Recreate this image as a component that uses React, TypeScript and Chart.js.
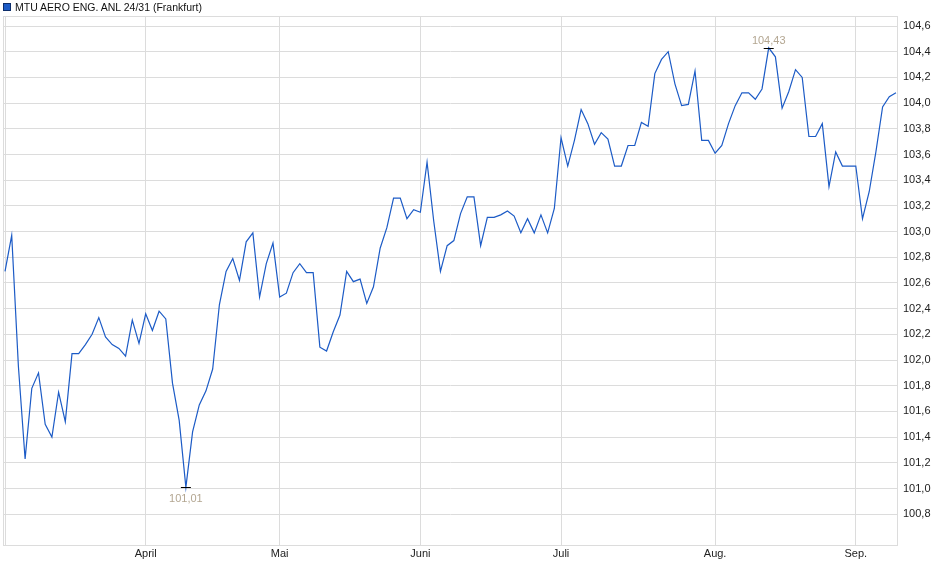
import { useEffect, useRef } from 'react';
import { Chart, registerables } from 'chart.js';

Chart.register(...registerables);

const seriesName = 'MTU AERO ENG. ANL 24/31 (Frankfurt)';

// Daily closing prices, trading days from early March to early September
const priceValues: number[] = [
  102.69, 102.97, 101.95, 101.23, 101.78, 101.9, 101.5, 101.4, 101.75, 101.52,
  102.05, 102.05, 102.12, 102.2, 102.33, 102.18, 102.12, 102.09, 102.03, 102.31,
  102.13, 102.36, 102.23, 102.38, 102.32, 101.82, 101.53, 101.01, 101.44, 101.65,
  101.76, 101.93, 102.43, 102.69, 102.79, 102.62, 102.92, 102.99, 102.49, 102.75,
  102.91, 102.49, 102.52, 102.68, 102.75, 102.68, 102.68, 102.1, 102.07, 102.22,
  102.35, 102.69, 102.61, 102.63, 102.44, 102.57, 102.87, 103.03, 103.26, 103.26,
  103.1, 103.17, 103.15, 103.54, 103.08, 102.69, 102.89, 102.93, 103.14, 103.27,
  103.27, 102.89, 103.11, 103.11, 103.13, 103.16, 103.12, 102.99, 103.1, 102.99,
  103.13, 102.99, 103.18, 103.73, 103.51, 103.71, 103.95, 103.84, 103.68, 103.77,
  103.72, 103.51, 103.51, 103.67, 103.67, 103.85, 103.82, 104.23, 104.34, 104.4,
  104.15, 103.98, 103.99, 104.25, 103.71, 103.71, 103.61, 103.67, 103.84, 103.98,
  104.08, 104.08, 104.03, 104.11, 104.43, 104.36, 103.96, 104.09, 104.26, 104.2,
  103.74, 103.74, 103.84, 103.35, 103.62, 103.51, 103.51, 103.51, 103.1, 103.31,
  103.62, 103.97, 104.05, 104.08,
];

// first trading day of each month (index into priceValues) and its label
const monthTicks = [0, 21, 41, 62, 83, 106, 127];
const monthLabels = ['', 'April', 'Mai', 'Juni', 'Juli', 'Aug.', 'Sep.'];

const yTickValues = [
  100.8, 101.0, 101.2, 101.4, 101.6, 101.8, 102.0, 102.2, 102.4, 102.6,
  102.8, 103.0, 103.2, 103.4, 103.6, 103.8, 104.0, 104.2, 104.4, 104.6,
];

const FONT = 'Arial, "Liberation Sans", sans-serif';
const LINE_COLOR = '#1c5bc6';
const GRID_COLOR = '#dcdcdc';

const fmt = (v: number, digits: number) => v.toFixed(digits).replace('.', ',');

// light frame round the plot area
const framePlugin = {
  id: 'frame',
  beforeDatasetsDraw(chart: any) {
    const { ctx, chartArea: a } = chart;
    ctx.save();
    ctx.strokeStyle = GRID_COLOR;
    ctx.lineWidth = 1;
    ctx.strokeRect(Math.round(a.left) + 0.5, Math.round(a.top) + 0.5,
      Math.round(a.right - a.left) - 1, Math.round(a.bottom - a.top));
    ctx.restore();
  },
};

// high / low markers with their values
const extremaPlugin = {
  id: 'extrema',
  afterDatasetsDraw(chart: any) {
    const { ctx, scales } = chart;
    let hi = 0;
    let lo = 0;
    priceValues.forEach((v, i) => {
      if (v > priceValues[hi]) hi = i;
      if (v < priceValues[lo]) lo = i;
    });
    ctx.save();
    ctx.font = `11px ${FONT}`;
    ctx.textAlign = 'center';
    ctx.textBaseline = 'alphabetic';
    [
      { i: hi, dy: -5 },
      { i: lo, dy: 14 },
    ].forEach(({ i, dy }) => {
      const px = scales.x.getPixelForValue(i);
      const py = Math.round(scales.y.getPixelForValue(priceValues[i])) + 0.5;
      ctx.strokeStyle = '#000';
      ctx.lineWidth = 1;
      ctx.beginPath();
      ctx.moveTo(px - 5, py);
      ctx.lineTo(px + 5, py);
      ctx.stroke();
      ctx.fillStyle = '#b3a691';
      ctx.fillText(fmt(priceValues[i], 2), px, py + dy);
    });
    ctx.restore();
  },
};

export default function App() {
  const canvasRef = useRef<HTMLCanvasElement>(null);
  const chartInstance = useRef<Chart | null>(null);

  useEffect(() => {
    document.body.style.margin = '0';
    if (!canvasRef.current) return;

    chartInstance.current = new Chart(canvasRef.current, {
      type: 'line',
      data: {
        datasets: [
          {
            label: seriesName,
            data: priceValues.map((v, i) => ({ x: i, y: v })),
            borderColor: LINE_COLOR,
            borderWidth: 1.2,
            pointRadius: 0,
            tension: 0,
            fill: false,
          },
        ],
      },
      options: {
        responsive: true,
        maintainAspectRatio: false,
        animation: false,
        layout: { padding: { left: 3, top: 16, right: 0, bottom: 0 } },
        plugins: {
          legend: { display: false },
          tooltip: { enabled: false },
        },
        scales: {
          x: {
            type: 'linear',
            min: -0.3,
            max: 133.3,
            afterBuildTicks: (scale: any) => {
              scale.ticks = monthTicks.map((value) => ({ value }));
            },
            afterFit: (scale: any) => {
              scale.height = 34;
            },
            grid: { color: GRID_COLOR, drawTicks: false },
            border: { display: false },
            ticks: {
              autoSkip: false,
              maxRotation: 0,
              padding: 2,
              color: '#222',
              font: { family: FONT, size: 11 },
              callback: (_value: any, index: number) => monthLabels[index] ?? '',
            },
          },
          y: {
            type: 'linear',
            position: 'right',
            min: 100.56,
            max: 104.678,
            afterBuildTicks: (scale: any) => {
              scale.ticks = yTickValues.map((value) => ({ value }));
            },
            afterFit: (scale: any) => {
              scale.width = 42;
            },
            grid: { color: GRID_COLOR, drawTicks: false },
            border: { display: false },
            ticks: {
              padding: 5,
              color: '#222',
              font: { family: FONT, size: 11 },
              callback: (value: any) => fmt(Number(value), 1),
            },
          },
        },
      },
      plugins: [framePlugin, extremaPlugin],
    });

    return () => {
      if (chartInstance.current) {
        chartInstance.current.destroy();
        chartInstance.current = null;
      }
    };
  }, []);

  return (
    <div style={{ position: 'relative', width: 940, height: 579, background: '#fff' }}>
      <canvas ref={canvasRef} style={{ display: 'block' }} />
      <div
        style={{
          position: 'absolute',
          left: 3,
          top: 0,
          height: 13,
          display: 'flex',
          alignItems: 'center',
          fontFamily: FONT,
          fontSize: 10.5,
          color: '#111',
          whiteSpace: 'nowrap',
        }}
      >
        <span
          style={{
            display: 'inline-block',
            width: 6,
            height: 6,
            background: LINE_COLOR,
            border: '1px solid #0d2e6b',
            marginRight: 4,
          }}
        />
        {seriesName}
      </div>
    </div>
  );
}
